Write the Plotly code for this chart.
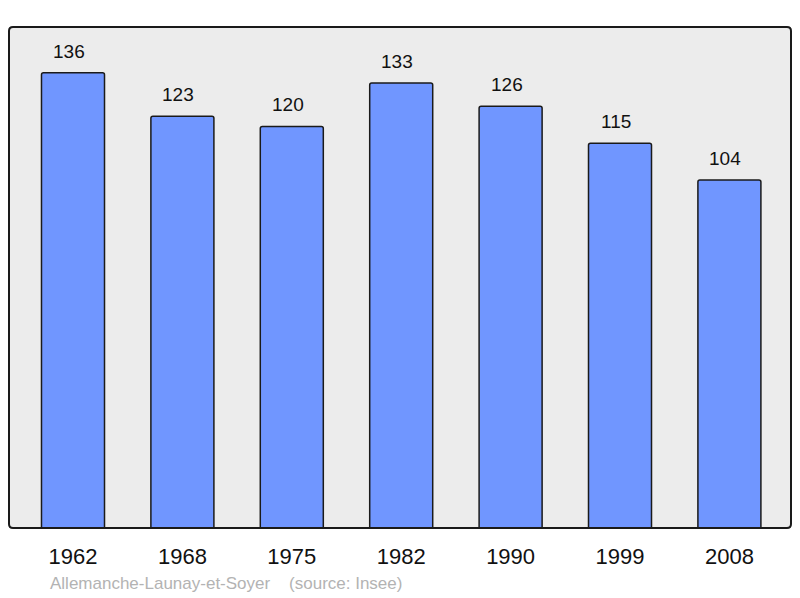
import plotly.graph_objects as go

years = ["1962", "1968", "1975", "1982", "1990", "1999", "2008"]
population = [136, 123, 120, 133, 126, 115, 104]
source_text = "Allemanche-Launay-et-Soyer    (source: Insee)"

W, H = 800, 598
ml, mr, mt, mb = 9, 9, 27, 70
pw, ph = W - ml - mr, H - mt - mb

fig = go.Figure()
fig.add_trace(go.Bar(
    x=years, y=population, width=0.576,
    marker=dict(color="#7096ff", line=dict(color="#1a1a1a", width=1.5), cornerradius=2),
    hoverinfo="skip",
))

for i, v in enumerate(population):
    fig.add_annotation(x=i, y=v, xref="x", yref="y", text=str(v), showarrow=False,
                       yanchor="bottom", yshift=9, xshift=-4, font=dict(size=19, color="#111111"))

fig.add_annotation(x=(48 - ml) / pw, y=-(583 - 528) / ph, xref="paper", yref="paper",
                   text=source_text, showarrow=False, xanchor="left", yanchor="middle",
                   font=dict(size=17, color="#b3b3b3"))

# rounded frame
r = 4
rx, ry = r / pw, r / ph
path = (f"M {rx},0 L {1-rx},0 Q 1,0 1,{ry} L 1,{1-ry} Q 1,1 {1-rx},1 "
        f"L {rx},1 Q 0,1 0,{1-ry} L 0,{ry} Q 0,0 {rx},0 Z")
fig.add_shape(type="path", path=path, xref="paper", yref="paper",
              line=dict(color="#1a1a1a", width=2), layer="above")

fig.update_layout(
    width=W, height=H,
    margin=dict(l=ml, r=mr, t=mt, b=mb),
    paper_bgcolor="white", plot_bgcolor="#ececec",
    font=dict(family="Liberation Sans, Arial, sans-serif", color="#111111"),
    showlegend=False,
    xaxis=dict(range=[-0.585, 6.563], showgrid=False, zeroline=False, showline=False,
               tickfont=dict(size=22), ticks="", ticklabelstandoff=13, fixedrange=True),
    yaxis=dict(range=[0, 149.7], showgrid=False, zeroline=False, showline=False,
               showticklabels=False, ticks="", fixedrange=True),
)

fig.write_html("out.html", config={"displayModeBar": False},
               post_script="document.body.style.margin='0px';")
